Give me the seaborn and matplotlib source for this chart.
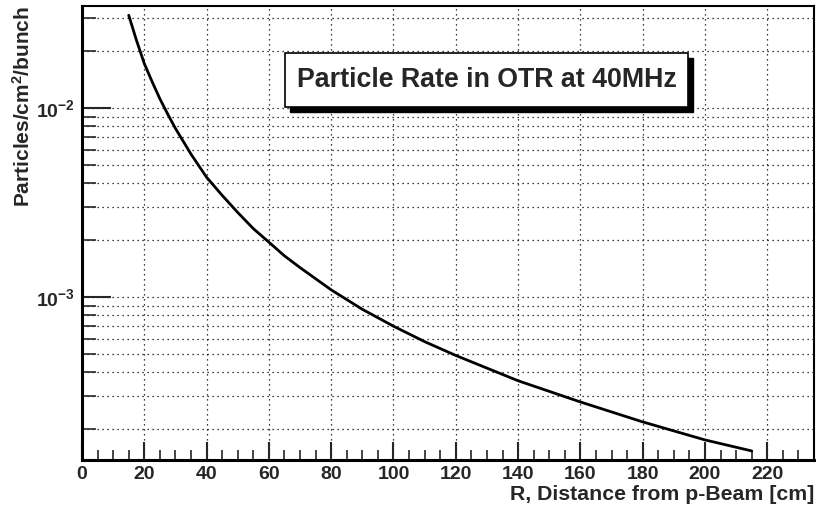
import numpy as np
import pandas as pd
import matplotlib
matplotlib.use('Agg')
import matplotlib.pyplot as plt
import seaborn as sns
from matplotlib.patches import Rectangle
from matplotlib.ticker import MultipleLocator, LogLocator, NullFormatter

# Values
r_cm = [15, 17.5, 20, 22.5, 25, 27.5, 30, 35, 40, 45, 50, 55, 60, 65, 70, 80, 90, 100,
        110, 120, 140, 160, 180, 200, 215]
rate = [3.1e-2, 2.28e-2, 1.72e-2, 1.38e-2, 1.12e-2, 9.3e-3, 7.8e-3, 5.7e-3, 4.3e-3,
        3.45e-3, 2.8e-3, 2.3e-3, 1.95e-3, 1.65e-3, 1.43e-3, 1.09e-3, 8.6e-4, 7.0e-4,
        5.8e-4, 4.9e-4, 3.6e-4, 2.78e-4, 2.18e-4, 1.75e-4, 1.53e-4]

title_text = 'Particle Rate in OTR at 40MHz'
x_label = 'R, Distance from p-Beam [cm]'
y_label = r'Particles/cm$^{\mathbf{2}}$/bunch'

sns.set_style('white')
plt.rcParams['font.family'] = ['Liberation Sans', 'DejaVu Sans']
plt.rcParams['font.weight'] = 'bold'
plt.rcParams['mathtext.fontset'] = 'custom'
plt.rcParams['mathtext.rm'] = 'Liberation Sans:bold'
plt.rcParams['mathtext.bf'] = 'Liberation Sans:bold'
plt.rcParams['mathtext.it'] = 'Liberation Sans:bold'

df = pd.DataFrame({'r': r_cm, 'rate': rate})

W, H = 816, 508
fig = plt.figure(figsize=(W / 100, H / 100), dpi=100)
ax = fig.add_axes([82 / W, 1 - 460 / H, (814 - 82) / W, (460 - 6) / H])

sns.lineplot(data=df, x='r', y='rate', ax=ax, color='black', linewidth=2)

ax.set_yscale('log')
ax.set_xlim(0, 235)
ax.set_ylim(1.37e-4, 3.47e-2)

# ROOT style axes: ticks inside, dotted grid
ax.xaxis.set_major_locator(MultipleLocator(20))
ax.xaxis.set_minor_locator(MultipleLocator(5))
ax.yaxis.set_minor_locator(LogLocator(base=10, subs=np.arange(2, 10), numticks=20))
ax.yaxis.set_minor_formatter(NullFormatter())
ax.set_yticks([1e-3, 1e-2])
ax.set_yticklabels([r'$10^{-3}$', r'$10^{-2}$'])

ax.tick_params(axis='x', which='major', direction='in', length=13, width=1.5,
               labelsize=14, pad=4, top=False, bottom=True)
ax.tick_params(axis='x', which='minor', direction='in', length=7, width=1.2,
               top=False, bottom=True)
ax.tick_params(axis='y', which='major', direction='in', length=21, width=1.5,
               labelsize=14, pad=5, right=False, left=True)
ax.tick_params(axis='y', which='minor', direction='in', length=10, width=1.2,
               right=False, left=True)

ax.grid(True, which='major', axis='x', color='black', linestyle=(0, (1, 3)), linewidth=0.9)
ax.grid(True, which='both', axis='y', color='black', linestyle=(0, (1, 3)), linewidth=0.9)

for side in ['left', 'bottom']:
    ax.spines[side].set_linewidth(2.2)
for side in ['top', 'right']:
    ax.spines[side].set_linewidth(1.5)
for s in ax.spines.values():
    s.set_color('black')

ax.set_xlabel(x_label, fontsize=15.3, fontweight='bold', loc='right')
ax.xaxis.set_label_coords(1.0, -(485 - 460) / 454)
ax.set_ylabel(y_label, fontsize=15, fontweight='bold', loc='top')
ax.yaxis.set_label_coords(-(82 - 34) / 732, 1.0)

# title box with drop shadow
bx0, by0, bx1, by1 = 285, 53, 688, 107
sh = 5
fig.patches.append(Rectangle(((bx0 + sh) / W, 1 - (by1 + sh) / H), (bx1 - bx0) / W,
                             (by1 - by0) / H, transform=fig.transFigure,
                             facecolor='black', edgecolor='black', zorder=5))
fig.patches.append(Rectangle((bx0 / W, 1 - by1 / H), (bx1 - bx0) / W,
                             (by1 - by0) / H, transform=fig.transFigure,
                             facecolor='white', edgecolor='black', linewidth=1.2, zorder=6))
fig.text((bx0 + bx1) / 2 / W, 1 - (by0 + by1) / 2 / H, title_text,
         ha='center', va='center', fontsize=19.3, fontweight='bold', zorder=7)

fig.savefig('out.png', dpi=100)
